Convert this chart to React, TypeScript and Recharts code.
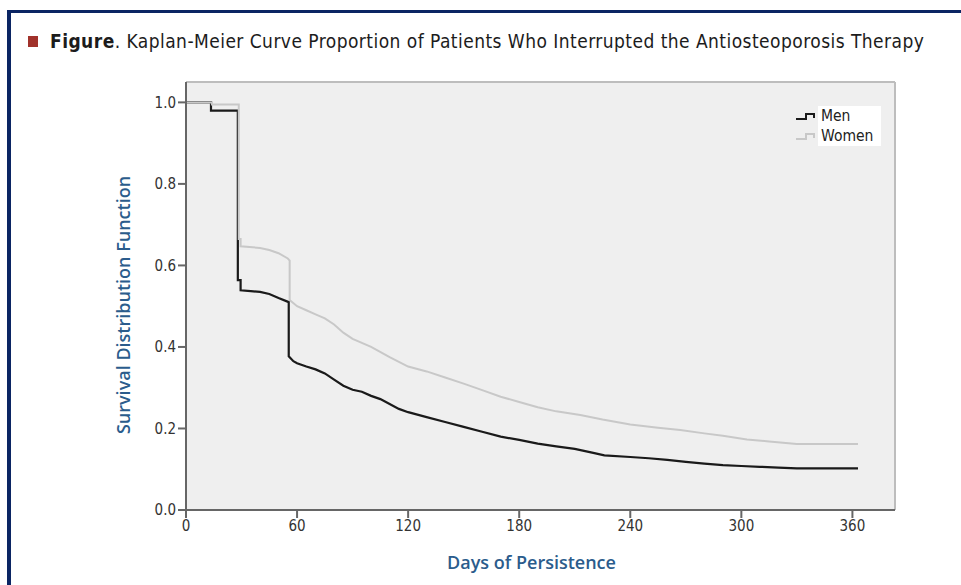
import React from "react";
import { LineChart, Line, XAxis, YAxis, CartesianGrid, ReferenceLine, Legend } from "recharts";

// Kaplan-Meier estimates (day -> survival proportion).
// Repeated days mark the vertical drops of the curve.
const menDays = [0, 13.5, 13.5, 28, 28, 29.5, 29.5, 35, 40, 45, 50, 55.5, 55.5, 58, 60, 65, 70, 75, 80, 85, 90, 95, 100, 105, 110, 115, 120, 130, 140, 150, 160, 170, 180, 190, 200, 210, 220, 226, 240, 250, 260, 270, 280, 290, 300, 310, 320, 330, 363];
const menSurvival = [1.0, 1.0, 0.98, 0.98, 0.564, 0.564, 0.539, 0.537, 0.535, 0.53, 0.52, 0.51, 0.377, 0.365, 0.36, 0.352, 0.345, 0.335, 0.32, 0.305, 0.295, 0.29, 0.28, 0.272, 0.26, 0.248, 0.24, 0.228, 0.216, 0.204, 0.192, 0.18, 0.172, 0.163, 0.156, 0.15, 0.14, 0.134, 0.13, 0.127, 0.123, 0.118, 0.114, 0.11, 0.108, 0.106, 0.104, 0.102, 0.102];

const womenDays = [0, 14, 14, 28.5, 28.5, 29.5, 29.5, 40, 45, 50, 55, 56, 56, 60, 65, 70, 75, 80, 85, 90, 100, 110, 120, 130, 140, 150, 160, 170, 180, 190, 200, 213, 225, 240, 255, 267, 280, 290, 303, 315, 330, 363];
const womenSurvival = [1.0, 1.0, 0.995, 0.995, 0.665, 0.665, 0.647, 0.643, 0.638, 0.63, 0.617, 0.612, 0.515, 0.5, 0.49, 0.48, 0.47, 0.455, 0.435, 0.42, 0.4, 0.375, 0.352, 0.34, 0.325, 0.31, 0.294, 0.278, 0.265, 0.252, 0.242, 0.233, 0.222, 0.21, 0.202, 0.196, 0.188, 0.182, 0.173, 0.168, 0.162, 0.162];

const xTicks = [0, 60, 120, 180, 240, 300, 360];
const yTicks = [0, 0.2, 0.4, 0.6, 0.8, 1.0];

const menData = menDays.map((day, i) => ({ day, value: menSurvival[i] }));
const womenData = womenDays.map((day, i) => ({ day, value: womenSurvival[i] }));

const labelBlue = "#2b5c8c";
const axisFont = "'Liberation Sans Narrow', 'DejaVu Sans Condensed', 'Liberation Sans', sans-serif";

const StepIcon = ({ color }: { color: string }) => (
  <svg width={24} height={12} style={{ display: "block" }}>
    <polyline points="2,9 12,9 12,4 20,4 20,8" fill="none" stroke={color} strokeWidth={2} />
  </svg>
);

const renderLegend = () => (
  <div style={{ display: "flex", flexDirection: "column" }}>
    {[
      { name: "Men", color: "#1a1a1a" },
      { name: "Women", color: "#c8c8c8" },
    ].map((item) => (
      <div key={item.name} style={{ display: "flex", alignItems: "center", height: 20 }}>
        <StepIcon color={item.color} />
        <span
          style={{
            background: "#ffffff",
            fontFamily: axisFont,
            fontSize: 15.5,
            color: "#222",
            padding: "0 4px 0 3px",
            lineHeight: "20px",
            width: 56,
          }}
        >
          {item.name}
        </span>
      </div>
    ))}
  </div>
);

const XTitle = ({ viewBox }: any) => (
  <text
    x={viewBox.x + viewBox.width / 2 - 9}
    y={viewBox.y + 59}
    textAnchor="middle"
    fill={labelBlue}
    fontFamily="'Open Sans', sans-serif"
    fontWeight={600}
    fontSize={18}
  >
    Days of Persistence
  </text>
);

const YTitle = ({ viewBox }: any) => {
  const cx = viewBox.x + viewBox.width - 63;
  const cy = viewBox.y + viewBox.height / 2 + 9;
  return (
    <text
      x={cx}
      y={cy}
      transform={`rotate(-90, ${cx}, ${cy})`}
      textAnchor="middle"
      dominantBaseline="central"
      fill={labelBlue}
      fontFamily="'Open Sans', sans-serif"
      fontWeight={600}
      fontSize={18}
    >
      Survival Distribution Function
    </text>
  );
};

export default function App() {
  return (
    <div style={{ position: "absolute", left: 0, top: 0, width: 961, height: 585, overflow: "hidden", background: "#fff" }}>
      {/* navy frame */}
      <div
        style={{
          position: "absolute",
          left: 7,
          top: 10,
          width: 1000,
          height: 600,
          borderLeft: "4px solid #0b2563",
          borderTop: "3px solid #0b2563",
        }}
      />
      {/* title */}
      <div
        style={{
          position: "absolute",
          left: 28,
          top: 30,
          display: "flex",
          alignItems: "center",
          fontFamily: axisFont,
          fontSize: 19,
          letterSpacing: 0.45,
          color: "#1c1c1c",
          whiteSpace: "nowrap",
        }}
      >
        <span style={{ display: "inline-block", width: 10, height: 11, background: "#a1322b", marginRight: 12 }} />
        <span>
          <b>Figure</b>. Kaplan-Meier Curve Proportion of Patients Who Interrupted the Antiosteoporosis Therapy
        </span>
      </div>
      <div style={{ position: "absolute", left: 0, top: 0 }}>
        <LineChart width={961} height={585} margin={{ top: 82, right: 66, bottom: 45, left: 126 }}>
          <CartesianGrid fill="#efefef" horizontal={false} vertical={false} />
          <XAxis
            dataKey="day"
            type="number"
            domain={[0, 383]}
            ticks={xTicks}
            allowDataOverflow
            height={30}
            stroke="#666"
            strokeWidth={2}
            tickSize={8}
            tick={{ fill: "#333", fontSize: 15, fontFamily: axisFont }}
            label={<XTitle />}
          />
          <YAxis
            type="number"
            domain={[0, 1.05]}
            ticks={yTicks}
            allowDataOverflow
            width={60}
            stroke="#666"
            strokeWidth={2}
            tickSize={8}
            tickFormatter={(v: number) => v.toFixed(1)}
            tick={{ fill: "#333", fontSize: 15, fontFamily: axisFont }}
            label={<YTitle />}
          />
          <ReferenceLine y={1.05} stroke="#bdbdbd" strokeWidth={2} />
          <ReferenceLine x={383} stroke="#bdbdbd" strokeWidth={2} />
          <Line
            data={menData}
            dataKey="value"
            name="Men"
            type="linear"
            stroke="#1a1a1a"
            strokeWidth={2.2}
            dot={false}
            isAnimationActive={false}
          />
          <Line
            data={womenData}
            dataKey="value"
            name="Women"
            type="linear"
            stroke="#c8c8c8"
            strokeWidth={2}
            dot={false}
            isAnimationActive={false}
          />
          <Legend
            layout="horizontal"
            verticalAlign="middle"
            align="center"
            content={renderLegend}
            wrapperStyle={{ top: 106, left: 794, width: 90 }}
          />
        </LineChart>
      </div>
    </div>
  );
}
